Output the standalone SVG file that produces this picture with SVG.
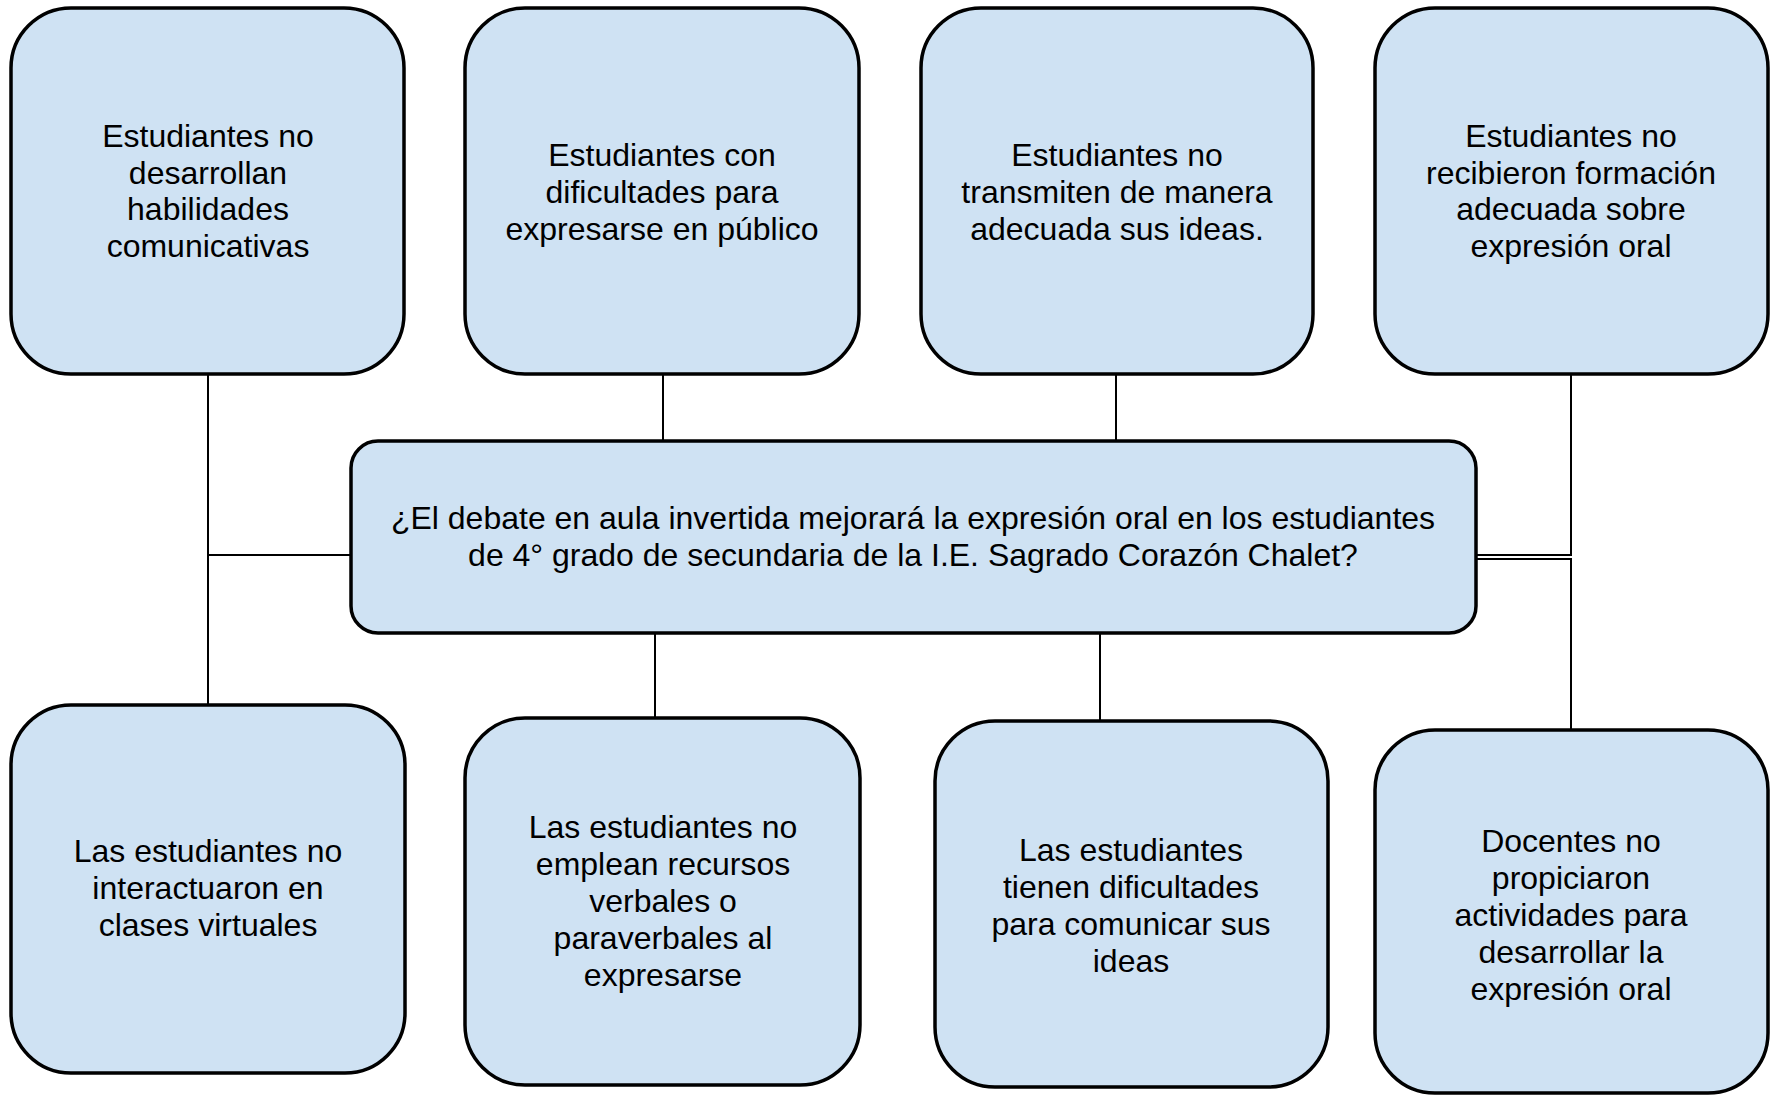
<svg xmlns="http://www.w3.org/2000/svg" width="1770" height="1095" viewBox="0 0 1770 1095">
<style>
.box{fill:#cfe2f3;stroke:#000;stroke-width:3.5}
.lbl{font-family:"Liberation Sans",Arial,sans-serif;font-size:32px;fill:#000;text-anchor:middle}
.con{fill:none;stroke:#000;stroke-width:2}
</style>
<rect width="1770" height="1095" fill="#fff"/>
<g id="connectors">
<path class="con" d="M208 374 V705"/>
<path class="con" d="M208 555 H351"/>
<path class="con" d="M663 374 V441"/>
<path class="con" d="M1116 374 V441"/>
<path class="con" d="M655 633 V718"/>
<path class="con" d="M1100 633 V721"/>
<path class="con" d="M1571 374 V555 H1476"/>
<path class="con" d="M1476 559 H1571 V730"/>
</g>
<g id="n1"><rect class="box" x="11" y="8" width="393" height="366" rx="60"/>
<text class="lbl"><tspan x="208" y="147">Estudiantes no</tspan><tspan x="208" y="183.5">desarrollan</tspan><tspan x="208" y="220">habilidades</tspan><tspan x="208" y="256.5">comunicativas</tspan></text></g>
<g id="n2"><rect class="box" x="465" y="8" width="394" height="366" rx="60"/>
<text class="lbl"><tspan x="662" y="166">Estudiantes con</tspan><tspan x="662" y="203">dificultades para</tspan><tspan x="662" y="240">expresarse en público</tspan></text></g>
<g id="n3"><rect class="box" x="921" y="8" width="392" height="366" rx="60"/>
<text class="lbl"><tspan x="1117" y="166">Estudiantes no</tspan><tspan x="1117" y="203">transmiten de manera</tspan><tspan x="1117" y="240">adecuada sus ideas.</tspan></text></g>
<g id="n4"><rect class="box" x="1375" y="8" width="393" height="366" rx="60"/>
<text class="lbl"><tspan x="1571" y="147">Estudiantes no</tspan><tspan x="1571" y="183.5">recibieron formación</tspan><tspan x="1571" y="220">adecuada sobre</tspan><tspan x="1571" y="256.5">expresión oral</tspan></text></g>
<g id="center"><rect class="box" x="351" y="441" width="1125" height="192" rx="27"/>
<text class="lbl"><tspan x="913" y="529">¿El debate en aula invertida mejorará la expresión oral en los estudiantes</tspan><tspan x="913" y="566">de 4° grado de secundaria de la I.E. Sagrado Corazón Chalet?</tspan></text></g>
<g id="n5"><rect class="box" x="11" y="705" width="394" height="368" rx="60"/>
<text class="lbl"><tspan x="208" y="862">Las estudiantes no</tspan><tspan x="208" y="899">interactuaron en</tspan><tspan x="208" y="936">clases virtuales</tspan></text></g>
<g id="n6"><rect class="box" x="465" y="718" width="395" height="367" rx="60"/>
<text class="lbl"><tspan x="663" y="838">Las estudiantes no</tspan><tspan x="663" y="875">emplean recursos</tspan><tspan x="663" y="912">verbales o</tspan><tspan x="663" y="949">paraverbales al</tspan><tspan x="663" y="986">expresarse</tspan></text></g>
<g id="n7"><rect class="box" x="935" y="721" width="393" height="366" rx="60"/>
<text class="lbl"><tspan x="1131" y="861">Las estudiantes</tspan><tspan x="1131" y="898">tienen dificultades</tspan><tspan x="1131" y="935">para comunicar sus</tspan><tspan x="1131" y="972">ideas</tspan></text></g>
<g id="n8"><rect class="box" x="1375" y="730" width="393" height="363" rx="60"/>
<text class="lbl"><tspan x="1571" y="852">Docentes no</tspan><tspan x="1571" y="889">propiciaron</tspan><tspan x="1571" y="926">actividades para</tspan><tspan x="1571" y="963">desarrollar la</tspan><tspan x="1571" y="1000">expresión oral</tspan></text></g>
</svg>
